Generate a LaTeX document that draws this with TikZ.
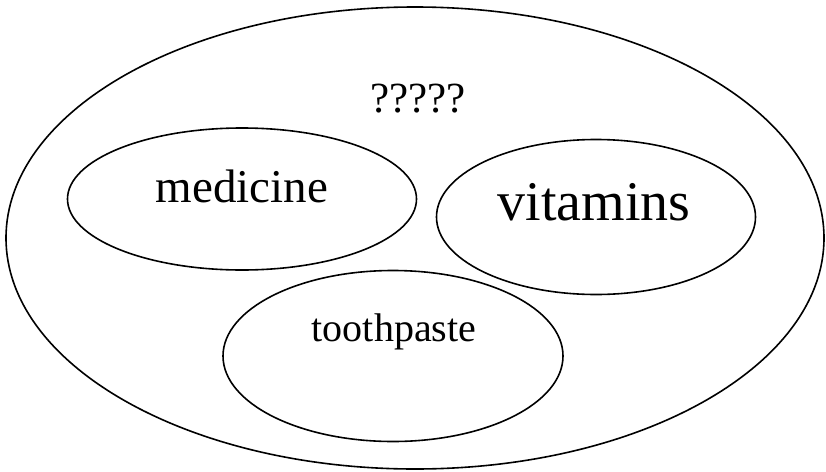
\documentclass[tikz,border=0pt]{standalone}
\usepackage{fontspec}
\setmainfont{Liberation Serif}
\usetikzlibrary{shapes.geometric}
\begin{document}
\begin{tikzpicture}[x=1pt,y=-1pt,
  set/.style={draw=black,line width=1.6pt,ellipse,inner sep=0pt},
  lbl/.style={inner sep=0pt,anchor=base}]
\useasboundingbox (0,0) rectangle (826,471);
\node[set,minimum width=818pt,minimum height=462pt] (univ) at (415,238) {};
\node[set,minimum width=349pt,minimum height=142pt] (med) at (242,199) {};
\node[set,minimum width=319pt,minimum height=155pt] (vit) at (596,217) {};
\node[set,minimum width=340pt,minimum height=171pt] (tooth) at (393,356) {};
\node[lbl] (q) at (418,112) {\fontsize{43}{46}\selectfont ?????};
\node[lbl] (tmed) at (242,202) {\fontsize{47}{50}\selectfont medicine};
\node[lbl] (tvit) at (594,220) {\fontsize{56}{60}\selectfont vitamins};
\node[lbl] (ttooth) at (394,341) {\fontsize{40}{44}\selectfont toothpaste};
\end{tikzpicture}
\end{document}
